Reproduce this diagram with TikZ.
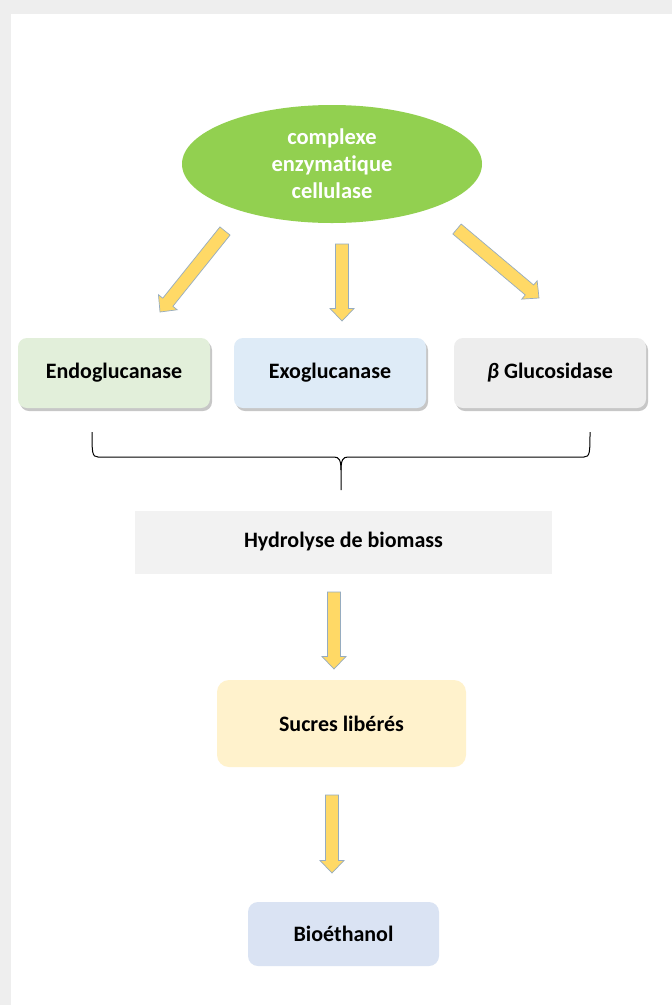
\documentclass[tikz,border=0pt]{standalone}
\usepackage{fontspec}
\setmainfont{Carlito}[Ligatures=NoCommon]
\usetikzlibrary{shapes.geometric,shadows,calc}

\definecolor{cellgreen}{RGB}{146,208,80}
\definecolor{endofill}{RGB}{226,239,218}
\definecolor{exofill}{RGB}{222,235,247}
\definecolor{glucfill}{RGB}{237,237,237}
\definecolor{hydrofill}{RGB}{242,242,242}
\definecolor{sucrefill}{RGB}{255,242,204}
\definecolor{bioefill}{RGB}{218,227,243}
\definecolor{arrowfill}{RGB}{255,217,102}
\definecolor{arrowline}{RGB}{150,172,192}
\definecolor{framegray}{RGB}{238,238,238}

\tikzset{
  enzbox/.style={rectangle, rounded corners=9pt, minimum width=192pt, minimum height=70pt,
    font=\fontsize{22}{26}\selectfont\bfseries,
    drop shadow={shadow xshift=2pt, shadow yshift=-3pt, fill=black, opacity=0.22}},
  flowbox/.style={rectangle, rounded corners=12pt, font=\fontsize{22}{26}\selectfont\bfseries},
  yarrow/.style={fill=arrowfill, draw=arrowline, line width=0.7pt, line join=miter}
}

% block arrow from coordinate #1 to coordinate #2
\newcommand{\blockarrow}[2]{%
  \coordinate (#2-neck) at ($(#2)!12.5pt!(#1)$);
  \draw[yarrow] ($(#1)!6.5pt!90:(#2)$) -- ($(#2-neck)!6.5pt!90:(#2)$) -- ($(#2-neck)!12pt!90:(#2)$)
    -- (#2) -- ($(#2-neck)!12pt!-90:(#2)$) -- ($(#2-neck)!6.5pt!-90:(#2)$) -- ($(#1)!6.5pt!-90:(#2)$) -- cycle;
}

\begin{document}
\begin{tikzpicture}[x=1pt,y=1pt,yscale=-1]
            %Background frame
            \fill[framegray] (0,0) rectangle (672,1005);
            \fill[white] (11,14) rectangle (672,1005);
            \useasboundingbox (0,0) rectangle (672,1005);

            %Shape: Ellipse
            \node (cell) [ellipse, fill=cellgreen, minimum width=300pt, minimum height=118pt, inner sep=0pt,
              text=white, align=center, font=\fontsize{22.5}{27}\selectfont\bfseries] at (332,164)
              {complexe\\enzymatique\\cellulase};

            %Shape: Rounded Rect
            \node (endo) [enzbox, fill=endofill] at (114,373) {Endoglucanase};
            \node (exo) [enzbox, fill=exofill] at (330,373) {Exoglucanase};
            \node (gluc) [enzbox, fill=glucfill] at (550,373) {\itshape β\upshape{} Glucosidase};

            %Block Arrows
            \coordinate (a1) at (225,231);
            \coordinate (t1) at (160,312);
            \coordinate (a2) at (342,244);
            \coordinate (t2) at (342,321);
            \coordinate (a3) at (457,229);
            \coordinate (t3) at (539,298);
            \blockarrow{a1}{t1}
            \blockarrow{a2}{t2}
            \blockarrow{a3}{t3}

            %Shape: Brace
            \draw[line width=1pt] (92,432) .. controls (92,452) and (92,457) .. (98,457) -- (334,457)
              .. controls (339,457) and (341,460) .. (341,470) -- (341,490);
            \draw[line width=1pt] (590,432) .. controls (590,452) and (590,457) .. (584,457) -- (348,457)
              .. controls (343,457) and (341,460) .. (341,470);

            % Text Node
            \node (hydro) [rectangle, fill=hydrofill, minimum width=417pt, minimum height=63pt,
              font=\fontsize{22}{26}\selectfont\bfseries] at (343.5,542) {Hydrolyse de biomass};

            \coordinate (a4) at (334,592);
            \coordinate (t4) at (334,669);
            \blockarrow{a4}{t4}

            \node (sucre) [flowbox, fill=sucrefill, minimum width=249pt, minimum height=87pt] at (341.5,723.5) {Sucres libérés};

            \coordinate (a5) at (332,795);
            \coordinate (t5) at (332,873);
            \blockarrow{a5}{t5}

            \node (bioe) [flowbox, rounded corners=10pt, fill=bioefill, minimum width=191pt, minimum height=64pt] at (343.5,934) {Bioéthanol};

        \end{tikzpicture}
\end{document}
